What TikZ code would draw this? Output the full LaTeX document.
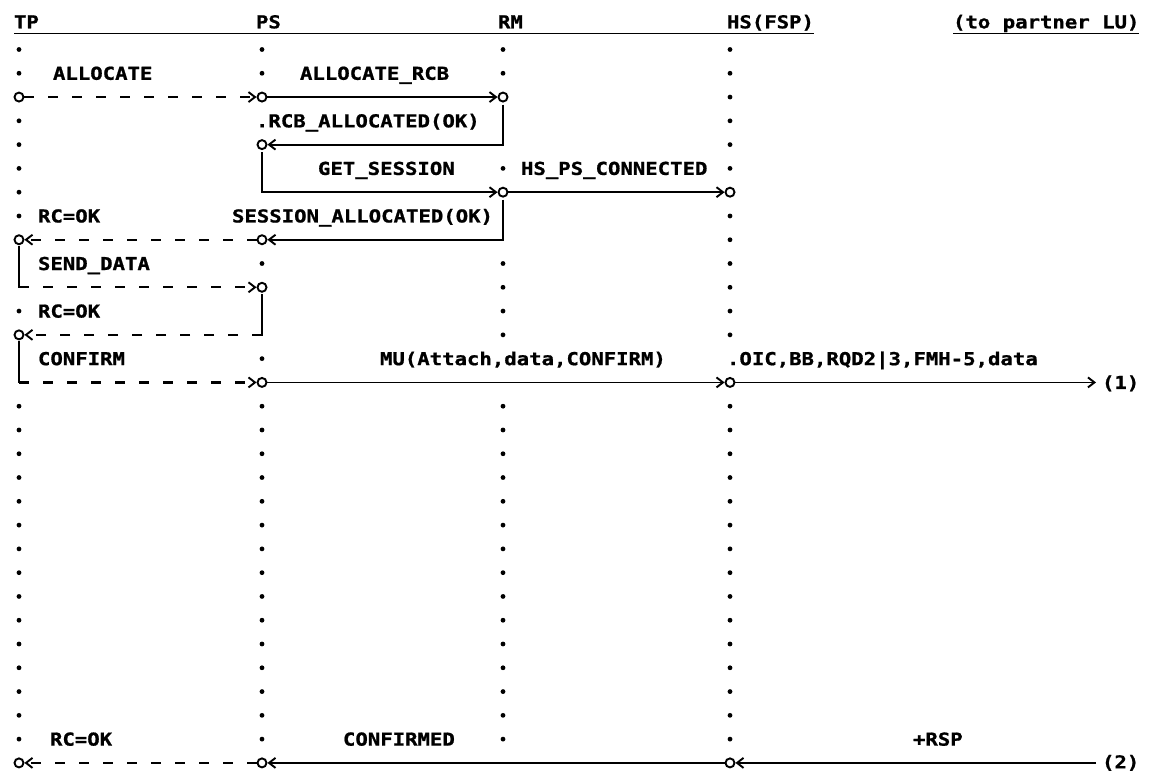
\documentclass[tikz,border=0pt]{standalone}
\usepackage{fontspec}
\newfontfamily\lbf[FakeStretch=1.16,FakeBold=1]{DejaVu Sans Mono}
\usetikzlibrary{arrows.meta}
\begin{document}
\begin{tikzpicture}[x=1pt,y=-23.78pt,
  txt/.style={anchor=base west, inner sep=0pt, outer sep=0pt, font=\lbf\bfseries\fontsize{17.8}{20}\selectfont},
  lbl/.style={txt, yshift=-6.5pt},
  oc/.style={circle, draw, line width=1.9pt, inner sep=0pt, minimum size=9pt},
  sline/.style={line width=1.7pt},
  vline/.style={line width=1.9pt, shorten <=2pt},
  tipa/.style={-{Straight Barb[length=6.5pt,width=10pt,line width=1.9pt]}},
  sarr/.style={sline, tipa},
  barr/.style={vline, tipa},
  darr/.style={line width=2.3pt, dash pattern=on 10pt off 14pt, tipa},
]
\useasboundingbox[fill=white] (0pt,25.72pt) rectangle (1149pt,-747.28pt);

% header
\node[txt] (hTP) at (14pt,-2.6pt) {TP};
\node[txt] (hPS) at (256pt,-2.6pt) {PS};
\node[txt] (hRM) at (498pt,-2.6pt) {RM};
\node[txt] (hHS) at (727pt,-2.6pt) {HS(FSP)};
\node[txt] (hLU) at (953pt,-2.6pt) {(to partner LU)};
\draw[line width=1.8pt] ([yshift=-5.2pt]hTP.base west) -- ([yshift=-5.2pt]hHS.base east);
\draw[line width=1.8pt] ([yshift=-5.2pt]hLU.base west) -- ([yshift=-5.2pt]hLU.base east);

% lifeline dots
\foreach \k in {1,2,4,5,6,7,8,12,16,17,...,30} \fill (19,\k) circle (2.4pt);
\foreach \k in {1,2,10,14,16,17,...,30} \fill (262,\k) circle (2.4pt);
\foreach \k in {1,2,6,10,11,12,13,16,17,...,30} \fill (503,\k) circle (2.4pt);
\foreach \k in {1,2,3,4,5,6,8,9,10,11,12,13,16,17,...,30} \fill (730,\k) circle (2.4pt);

% o markers
\node[oc] (tp3) at (19,3) {};
\node[oc] (ps3) at (262,3) {};
\node[oc] (rm3) at (503,3) {};
\node[oc] (ps5) at (262,5) {};
\node[oc] (rm7) at (503,7) {};
\node[oc] (hs7) at (730,7) {};
\node[oc] (tp9) at (19,9) {};
\node[oc] (ps9) at (262,9) {};
\node[oc] (ps11) at (262,11) {};
\node[oc] (tp13) at (19,13) {};
\node[oc] (ps15) at (262,15) {};
\node[oc] (hs15) at (730,15) {};
\node[oc] (tp31) at (19,31) {};
\node[oc] (ps31) at (262,31) {};
\node[oc] (hs31) at (730,31) {};
\coordinate (k11) at (19,11);
\coordinate (k13) at (262,13);
\coordinate (k15) at (19,15);
\coordinate (e15) at (1096,15);
\coordinate (e31) at (1096,31);

% labels
\node[lbl] (l1) at (53,2) {ALLOCATE};
\node[lbl] (l2) at (300,2) {ALLOCATE\_RCB};
\node[lbl] (l3) at (256,4) {.RCB\_ALLOCATED(OK)};
\node[lbl] (l4) at (318,6) {GET\_SESSION};
\node[lbl] (l5) at (521,6) {HS\_PS\_CONNECTED};
\node[lbl] (l6) at (38,8) {RC=OK};
\node[lbl] (l7) at (232,8) {SESSION\_ALLOCATED(OK)};
\node[lbl] (l8) at (38,10) {SEND\_DATA};
\node[lbl] (l9) at (38,12) {RC=OK};
\node[lbl] (l10) at (38,14) {CONFIRM};
\node[lbl] (l11) at (380,14) {MU(Attach,data,CONFIRM)};
\node[lbl] (l12) at (727,14) {.OIC,BB,RQD2|3,FMH-5,data};
\node[lbl] (l13) at (1102,15) {(1)};
\node[lbl] (l14) at (50,30) {RC=OK};
\node[lbl] (l15) at (343,30) {CONFIRMED};
\node[lbl] (l16) at (913,30) {+RSP};
\node[lbl, yshift=1pt] (l17) at (1102,31) {(2)};

% connectors
\draw[darr] (tp3) -- (ps3);
\draw[sarr] (ps3) -- (rm3);
\draw[barr] (rm3) |- (ps5);
\draw[barr] (ps5) |- (rm7);
\draw[sarr] (rm7) -- (hs7);
\draw[barr] (rm7) |- (ps9);
\draw[darr] (ps9) -- (tp9);
\draw[vline, line cap=rect] (tp9) -- (k11);
\draw[darr] (k11) -- (ps11);
\draw[vline, line cap=rect] (ps11) -- (k13);
\draw[darr] (k13) -- (tp13);
\draw[vline, line cap=rect] (tp13) -- (k15);
\draw[darr] (k15) -- (ps15);
\draw[sarr] (ps15) -- (hs15);
\draw[sarr] (hs15) -- (e15);
\draw[sarr] (e31) -- (hs31);
\draw[sarr] (hs31) -- (ps31);
\draw[darr] (ps31) -- (tp31);
\end{tikzpicture}
\end{document}
